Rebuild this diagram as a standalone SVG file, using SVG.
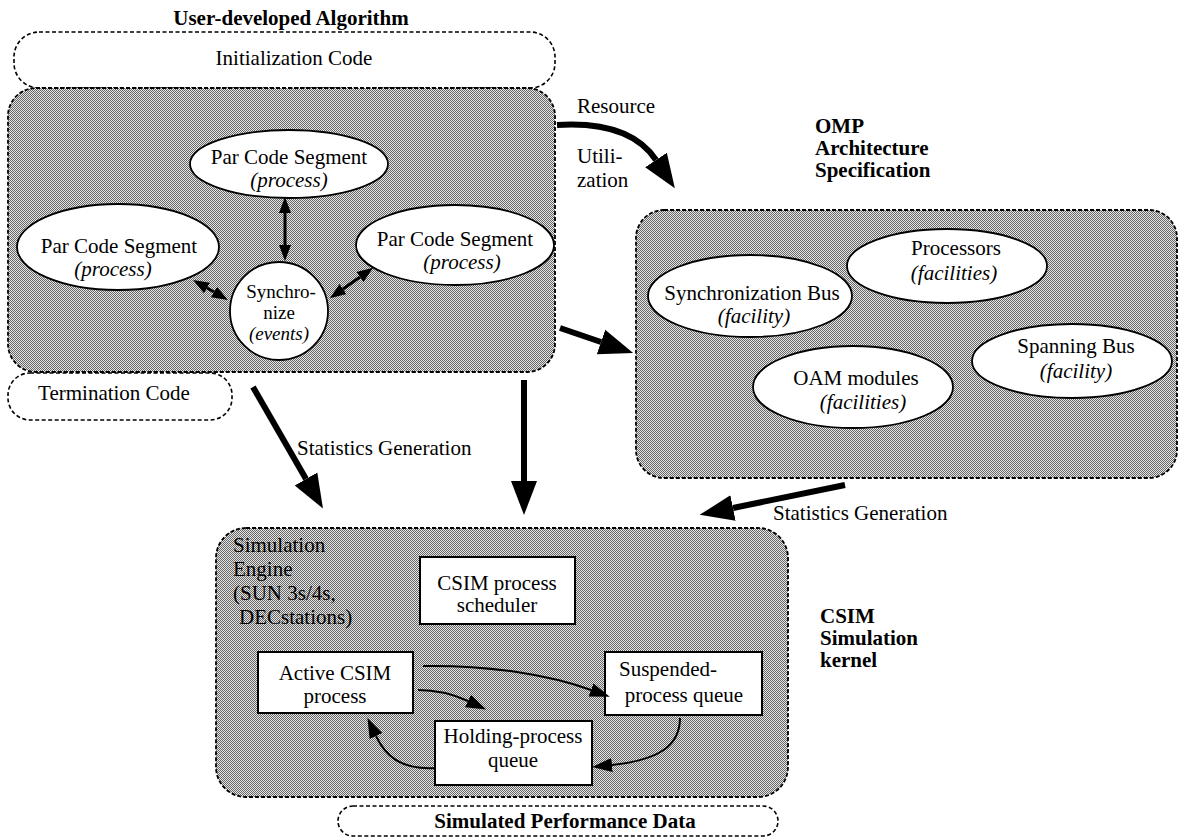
<svg xmlns="http://www.w3.org/2000/svg" width="1181" height="837" viewBox="0 0 1181 837">
<defs>
<style>
text{font-family:"Liberation Serif","Times New Roman",serif;font-size:21px;fill:#000}
.b{font-weight:bold}
.i{font-style:italic}
.m{text-anchor:middle}
.s{font-size:19px}
.pill{fill:#fff;stroke:#000;stroke-width:1.6;stroke-dasharray:4 2.5}
.area{fill:url(#dither);stroke:#000;stroke-width:1.8;stroke-dasharray:4 2}
.ell{fill:#fff;stroke:#000;stroke-width:1.8}
.box{fill:#fff;stroke:#000;stroke-width:2}
.thick{fill:none;stroke:#000;stroke-width:6;marker-end:url(#big)}
.thin{fill:none;stroke:#000;stroke-width:2;marker-end:url(#small)}
.dbl{fill:none;stroke:#000;stroke-width:3;marker-start:url(#dh);marker-end:url(#dh)}
</style>
<pattern id="dither" width="2" height="2" patternUnits="userSpaceOnUse">
<rect width="2" height="2" fill="#e6e6e6"/>
<rect width="1" height="1" fill="#666"/>
<rect x="1" y="1" width="1" height="1" fill="#666"/>
</pattern>
<marker id="big" markerUnits="userSpaceOnUse" viewBox="0 -14 36 28" refX="0" refY="0" markerWidth="36" markerHeight="28" orient="auto"><path d="M0,-13 L34,0 L0,13 z" fill="#000"/></marker>
<marker id="small" markerUnits="userSpaceOnUse" viewBox="0 -8 22 16" refX="0" refY="0" markerWidth="22" markerHeight="16" orient="auto"><path d="M0,-7 L20,0 L0,7 z" fill="#000"/></marker>
<marker id="dh" markerUnits="userSpaceOnUse" viewBox="0 -7 18 14" refX="0" refY="0" markerWidth="18" markerHeight="14" orient="auto-start-reverse"><path d="M0,-6 L16,0 L0,6 z" fill="#000"/></marker>
</defs>

<g id="user-algorithm">
<text class="b m" x="291" y="25">User-developed Algorithm</text>
<rect class="pill" x="14" y="32" width="541" height="56" rx="25"/>
<text class="m" x="294" y="65">Initialization Code</text>
<rect class="area" x="8" y="88" width="547" height="284" rx="28"/>
<rect class="pill" x="8" y="373" width="224" height="47" rx="22"/>
<text class="m" x="114" y="400">Termination Code</text>
</g>

<g id="par-top">
<ellipse class="ell" cx="289" cy="164" rx="99" ry="34"/>
<text class="m" x="289" y="164">Par Code Segment</text>
<text class="m i" x="289" y="187">(process)</text>
</g>
<g id="par-left">
<ellipse class="ell" cx="118" cy="247" rx="101" ry="43"/>
<text class="m" x="119" y="253">Par Code Segment</text>
<text class="m i" x="113" y="276">(process)</text>
</g>
<g id="par-right">
<ellipse class="ell" cx="455" cy="245" rx="99" ry="40"/>
<text class="m" x="455" y="246">Par Code Segment</text>
<text class="m i" x="462" y="269">(process)</text>
</g>
<g id="synchronize">
<circle class="ell" cx="279" cy="311" r="49"/>
<text class="m s" x="281" y="298">Synchro-</text>
<text class="m s" x="279" y="319">nize</text>
<text class="m i s" x="279" y="340">(events)</text>
</g>

<g id="omp">
<text class="b" x="815" y="133">OMP</text>
<text class="b" x="815" y="155">Architecture</text>
<text class="b" x="815" y="177">Specification</text>
<rect class="area" x="636" y="210" width="541" height="268" rx="28"/>
</g>
<g id="processors">
<ellipse class="ell" cx="947" cy="266" rx="100" ry="37"/>
<text class="m" x="956" y="255">Processors</text>
<text class="m i" x="954" y="280">(facilities)</text>
</g>
<g id="sync-bus">
<ellipse class="ell" cx="750" cy="296" rx="102" ry="41"/>
<text class="m" x="752" y="300">Synchronization Bus</text>
<text class="m i" x="754" y="323">(facility)</text>
</g>
<g id="spanning-bus">
<ellipse class="ell" cx="1072" cy="361" rx="100" ry="37"/>
<text class="m" x="1076" y="353">Spanning Bus</text>
<text class="m i" x="1076" y="378">(facility)</text>
</g>
<g id="oam">
<ellipse class="ell" cx="853" cy="387" rx="100" ry="41"/>
<text class="m" x="856" y="385">OAM modules</text>
<text class="m i" x="863" y="409">(facilities)</text>
</g>

<g id="csim">
<rect class="area" x="216" y="528" width="572" height="269" rx="30"/>
<text x="233" y="552">Simulation</text>
<text x="233" y="576">Engine</text>
<text x="233" y="600">(SUN 3s/4s,</text>
<text x="239" y="624">DECstations)</text>
<text class="b" x="820" y="623">CSIM</text>
<text class="b" x="820" y="645">Simulation</text>
<text class="b" x="820" y="667">kernel</text>
</g>
<g id="scheduler">
<rect class="box" x="420" y="557" width="155" height="67"/>
<text class="m" x="497" y="590">CSIM process</text>
<text class="m" x="497" y="612">scheduler</text>
</g>
<g id="active">
<rect class="box" x="258" y="652" width="155" height="61"/>
<text class="m" x="335" y="680">Active CSIM</text>
<text class="m" x="335" y="703">process</text>
</g>
<g id="suspended">
<rect class="box" x="605" y="652" width="157" height="63"/>
<text class="m" x="668" y="676">Suspended-</text>
<text class="m" x="684" y="702">process queue</text>
</g>
<g id="holding">
<rect class="box" x="435" y="721" width="157" height="64"/>
<text class="m" x="513" y="743">Holding-process</text>
<text class="m" x="513" y="767">queue</text>
</g>
<g id="output">
<rect class="pill" x="338" y="806" width="440" height="30" rx="15"/>
<text class="b m" x="565" y="828">Simulated Performance Data</text>
</g>

<g id="connectors">
<path class="thick" d="M557,125 C605,122 638,133 656,160"/>
<text x="577" y="113">Resource</text>
<text x="577" y="163">Utili-</text>
<text x="577" y="187">zation</text>
<path class="thick" d="M560,328 L601,342"/>
<path class="thick" d="M524,380 L524,481"/>
<path class="thick" d="M253,387 L306,479"/>
<text x="297" y="455">Statistics Generation</text>
<path class="thick" d="M845,485 L733,508"/>
<text x="773" y="520">Statistics Generation</text>
<path class="dbl" d="M285,213 L285,245"/>
<path class="dbl" d="M207,288 L214,292"/>
<path class="dbl" d="M360,277 L343,289"/>
<path class="thin" d="M423,666 C490,665 550,675 591,690"/>
<path class="thin" d="M418,690 C440,690 455,695 468,701"/>
<path class="thin" d="M680,718 C680,745 660,760 612,765"/>
<path class="thin" d="M435,768 C400,770 385,755 376,736"/>
</g>
</svg>
